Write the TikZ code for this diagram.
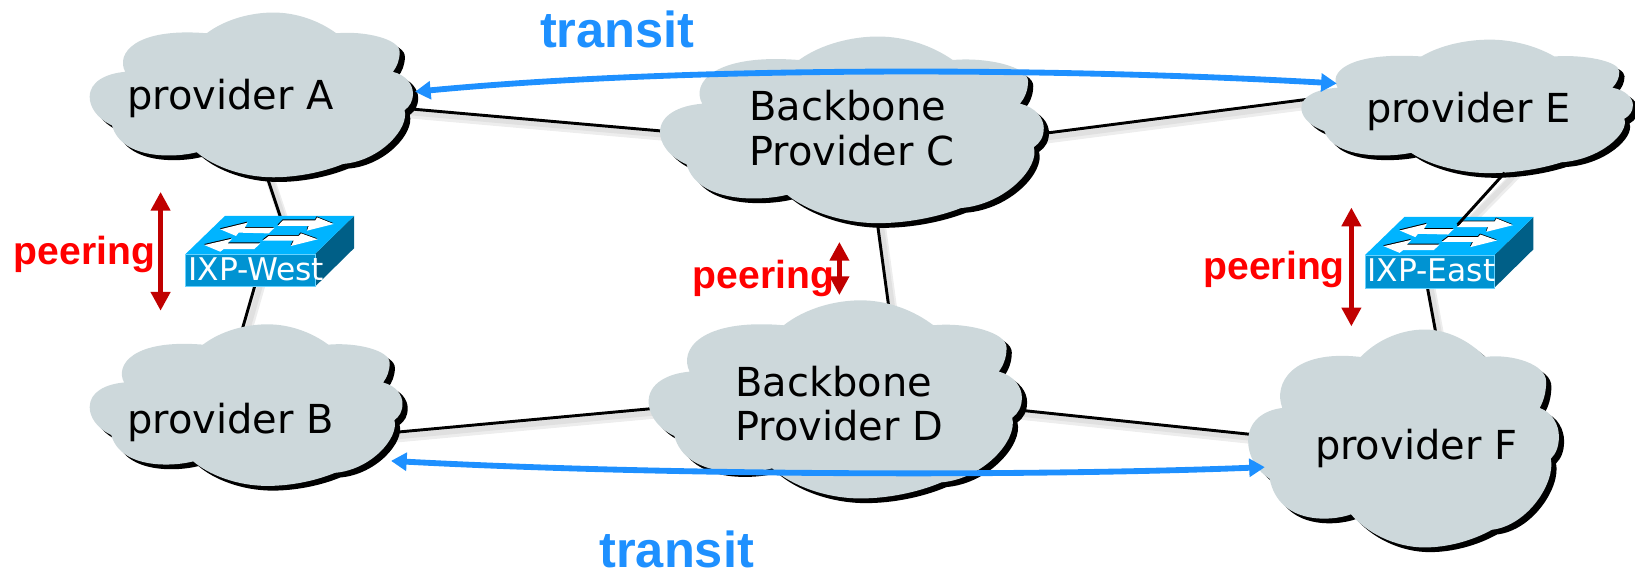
\documentclass[tikz,border=0pt]{standalone}
\usepackage{fontspec}
\setmainfont{DejaVu Sans}
\newfontfamily\labelfont{Liberation Sans}
\usetikzlibrary{arrows.meta, backgrounds}

\definecolor{cloudgray}{RGB}{205,216,219}
\definecolor{transitblue}{RGB}{30,144,255}
\definecolor{peerdark}{RGB}{192,0,0}
\definecolor{swtop}{RGB}{0,180,255}
\definecolor{swfront}{RGB}{0,147,210}
\definecolor{swside}{RGB}{0,95,135}

\tikzset{
    cloudtext/.style={inner sep=0pt, align=left, font=\fontsize{38.3}{43}\selectfont},
    swtext/.style={inner sep=0pt, text=white, anchor=west, font=\fontsize{30}{32}\selectfont},
    wire/.style={line width=2.8pt},
    wireshade/.style={
        preaction={draw=black!7, line width=9pt, transform canvas={xshift=4pt, yshift=-5pt}},
        preaction={draw=black!12, line width=5pt, transform canvas={xshift=4pt, yshift=-4pt}}},
    link/.style={wireshade, wire},
    transit/.style={draw=transitblue, line width=5.6pt, {Triangle[length=15pt,width=17pt]}-{Triangle[length=15pt,width=17pt]}},
    peer/.style={draw=peerdark, line width=5.5pt, {Triangle[length=18pt,width=18pt]}-{Triangle[length=18pt,width=18pt]}},
    transitlabel/.style={inner sep=0pt, text=transitblue, font=\labelfont\bfseries\fontsize{48.5}{50}\selectfont},
    peerlabel/.style={inner sep=0pt, text=red, font=\labelfont\bfseries\fontsize{37.5}{40}\selectfont},
}

% left, top, width, height
\newcommand{\cloudblob}[4]{
    \begin{scope}[shift={(#1+5,#2+4.5)}, xscale=#3/100, yscale=#4/100]
        \fill[black] \cloudpath;
    \end{scope}
    \begin{scope}[shift={(#1,#2)}, xscale=#3/100, yscale=#4/100]
        \fill[cloudgray] \cloudpath;
    \end{scope}
}
\newcommand{\cloudpath}{
    (36.2,12.6) .. controls (42,4) and (50,0) .. (56.8,0)
    .. controls (64,0) and (71,5) .. (76.3,12.6)
    .. controls (85,11) and (96,16) .. (95.9,24)
    .. controls (95.9,29) and (95,33) .. (93.8,36)
    .. controls (98,38) and (100,44) .. (100,49)
    .. controls (100,54) and (99,57) .. (97.4,59.3)
    .. controls (99,70) and (90,90) .. (78.4,91.9)
    .. controls (72,97) and (64,100) .. (56.8,100)
    .. controls (47,100) and (38,93) .. (33.1,84.8)
    .. controls (27,88) and (10,90) .. (6.9,68.5)
    .. controls (2,64) and (0,57) .. (0,51.2)
    .. controls (0,42) and (5,37) .. (11,36)
    .. controls (8,25) and (14,9) .. (36.2,12.6)
    -- cycle
}
% name, front left, front top, label
\newcommand{\switchbox}[4]{
    \begin{scope}[shift={(#2,#3)}]
        \fill[swside] (124,0) -- (161.5,-36.6) -- (161.5,-5.5) -- (124,31.4) -- cycle;
        \fill[swtop] (0,0) -- (37.8,-36.6) -- (161.5,-36.6) -- (124,0) -- cycle;
        \filldraw[fill=swfront, draw=swtop!60!white, line width=.6pt] (0,0) rectangle (124,31.4);
        \foreach \dx/\dy/\col in {-.4/-.9/black, 0/0/white}{
            \begin{scope}[shift={(\dx,\dy)}]
                \fill[\col] (33.3,-23.7) -- (59.5,-30.1) -- (56.6,-25) -- (85.1,-25) -- (79.7,-19.8) -- (50.9,-20.5) -- (48.3,-17.3) -- cycle;
                \fill[\col] (142,-28.8) -- (126,-35.2) -- (124.5,-32.3) -- (93.4,-32.3) -- (88.3,-26.9) -- (118,-26.9) -- (116.5,-22.4) -- cycle;
                \fill[\col] (17.9,-8.6) -- (44.5,-14.7) -- (40.3,-10.2) -- (71.7,-10.2) -- (65.9,-4.8) -- (36.5,-4.8) -- (33.3,-2.2) -- cycle;
                \fill[\col] (126.7,-14.1) -- (110.7,-19.8) -- (108.5,-17.3) -- (79.7,-17.3) -- (73.9,-12.8) -- (103.7,-12.8) -- (101.1,-7.7) -- cycle;
            \end{scope}
        }
        \node[swtext] (#1) at (2.5,14.2) {#4};
    \end{scope}
}

\begin{document}
\begin{tikzpicture}[x=1pt, y=-1pt]

\useasboundingbox (0,0) rectangle (1568,552.4);

\cloudblob{86}{12}{310}{158}
\cloudblob{633}{35}{368}{179}
\cloudblob{1248}{38}{318}{128}
\cloudblob{86}{311}{300}{155}
\cloudblob{622}{288}{358}{190}
\cloudblob{1197}{316}{298}{209}

\node[cloudtext] (pa) at (221,94) {provider A};
\node[cloudtext] (pc) at (817,123) {Backbone\\Provider C};
\node[cloudtext] (pe) at (1408,107) {provider E};
\node[cloudtext] (pb) at (221,405) {provider B};
\node[cloudtext] (pd) at (805,387) {Backbone\\Provider D};
\node[cloudtext] (pf) at (1358,430) {provider F};

\switchbox{ixpw}{178}{243.6}{IXP-West}
\switchbox{ixpe}{1309}{244.7}{IXP-East}

\coordinate (ixpetop) at ([xshift=25pt, yshift=32pt]ixpe.north);

\begin{scope}[on background layer]
    \draw[link] ([yshift=-4pt]pa.east) -- ([yshift=-10pt]pc.west);
    \draw[link] ([yshift=-16pt]pc.east) -- ([yshift=19pt]pe.west);
    \draw[link] ([xshift=17pt]pc.south) -- ([xshift=55pt]pd.north);
    \draw[link] ([xshift=16pt]pa.south) -- ([xshift=36pt]ixpw.north);
    \draw[link] (ixpw.south) -- ([xshift=-9pt]pb.north);
    \path[wireshade] ([xshift=78pt]pe.south) -- (ixpetop);
    \draw[link] ([xshift=-5pt]ixpe.south) -- ([xshift=36pt]pf.north);
    \draw[link] ([yshift=-15pt]pb.east) -- ([yshift=2.5pt]pd.west);
    \draw[link] ([yshift=1.3pt]pd.east) -- ([yshift=7pt]pf.west);
\end{scope}

\draw[wire] ([xshift=35pt, yshift=-40pt]pe.south) -- (ixpetop);

\coordinate (ta) at (398,88);
\coordinate (te) at (1282,80);
\coordinate (tb) at (375,442);
\coordinate (tf) at (1213,448);
\draw[transit] (ta) .. controls (650,64) and (1000,64) .. (te);
\draw[transit] (tb) .. controls (650,456.5) and (1000,456.5) .. (tf);

\coordinate (wtop) at (154,184);
\coordinate (wbot) at (154,298);
\coordinate (mtop) at (805,232);
\coordinate (mbot) at (805,283);
\coordinate (etop) at (1296,199);
\coordinate (ebot) at (1296,313);
\draw[peer] (wtop) -- (wbot);
\draw[peer] (mtop) -- (mbot);
\draw[peer] (etop) -- (ebot);

\node[transitlabel] (ttop) at (592,28) {transit};
\node[transitlabel] (tbot) at (649,527) {transit};
\node[peerlabel] (pwest) at (81,244) {peering};
\node[peerlabel] (pmid) at (732,267) {peering};
\node[peerlabel] (peast) at (1222,258) {peering};

\end{tikzpicture}
\end{document}
